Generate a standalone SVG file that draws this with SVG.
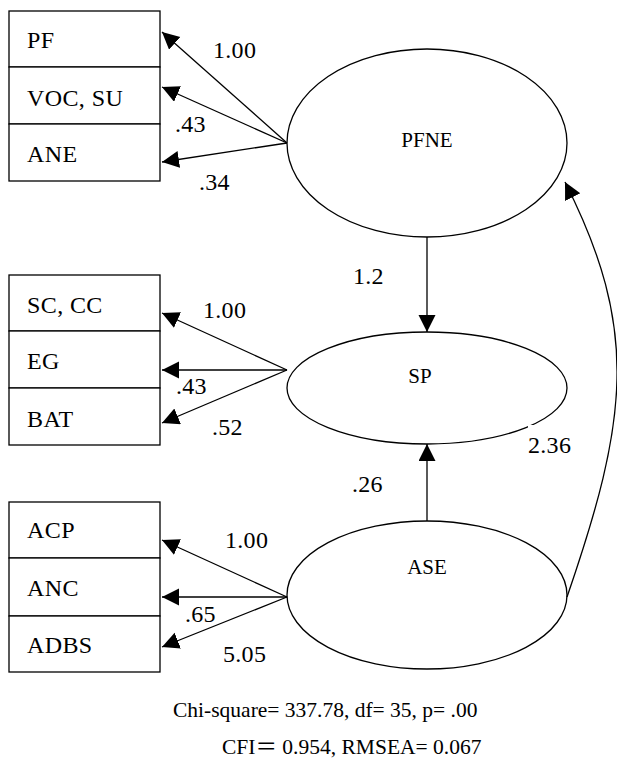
<svg xmlns="http://www.w3.org/2000/svg" width="617" height="760" viewBox="0 0 617 760">
<style>
text{font-family:"Liberation Serif","Times New Roman",Times,serif;fill:#000;}
.cjk{font-family:"Noto Sans CJK SC",sans-serif;}
.lbl{font-size:24px;letter-spacing:0.4px;}
.lat{font-size:21px;text-anchor:middle;}
.coef{font-size:24px;letter-spacing:0.3px;}
.fit{font-size:21.5px;}
.box{fill:#fff;stroke:#000;stroke-width:1.3;}
.ell{fill:#fff;stroke:#000;stroke-width:1.3;}
.conn line,.conn path{stroke:#000;stroke-width:1.3;fill:none;marker-end:url(#ah);}
</style>
<defs>
<marker id="ah" markerUnits="userSpaceOnUse" markerWidth="18" markerHeight="18" refX="17" refY="8.5" orient="auto">
<path d="M0,0 L17,8.5 L0,17 z" fill="#000"/>
</marker>
</defs>
<rect width="617" height="760" fill="#fff"/>

<g id="PF"><rect class="box" x="9" y="11" width="151" height="56"/><text class="lbl" x="27" y="48">PF</text></g>
<g id="VOC_SU"><rect class="box" x="9" y="67" width="151" height="57"/><text class="lbl" x="27" y="106">VOC, SU</text></g>
<g id="ANE"><rect class="box" x="9" y="124" width="151" height="57"/><text class="lbl" x="27" y="162">ANE</text></g>

<g id="SC_CC"><rect class="box" x="9" y="275" width="151" height="56"/><text class="lbl" x="27" y="313">SC, CC</text></g>
<g id="EG"><rect class="box" x="9" y="331" width="151" height="57"/><text class="lbl" x="27" y="369">EG</text></g>
<g id="BAT"><rect class="box" x="9" y="388" width="151" height="57"/><text class="lbl" x="27" y="427">BAT</text></g>

<g id="ACP"><rect class="box" x="9" y="502" width="151" height="56"/><text class="lbl" x="27" y="538">ACP</text></g>
<g id="ANC"><rect class="box" x="9" y="558" width="151" height="58"/><text class="lbl" x="27" y="596">ANC</text></g>
<g id="ADBS"><rect class="box" x="9" y="616" width="151" height="56"/><text class="lbl" x="27" y="653">ADBS</text></g>

<g id="PFNE"><ellipse class="ell" cx="427" cy="143" rx="140" ry="94"/><text class="lat" x="427" y="147">PFNE</text></g>
<g id="SP"><ellipse class="ell" cx="427" cy="388" rx="140" ry="56"/><text class="lat" x="420" y="383">SP</text></g>
<g id="ASE"><ellipse class="ell" cx="427" cy="595" rx="140" ry="74"/><text class="lat" x="427" y="574">ASE</text></g>

<g id="connectors" class="conn">
<line x1="287" y1="143" x2="162" y2="32"/>
<line x1="287" y1="143" x2="162" y2="87"/>
<line x1="287" y1="143" x2="162" y2="162"/>
<line x1="287" y1="370" x2="162" y2="313"/>
<line x1="287" y1="370" x2="162" y2="370"/>
<line x1="287" y1="370" x2="162" y2="423"/>
<line x1="287" y1="597" x2="162" y2="540"/>
<line x1="287" y1="597" x2="162" y2="597"/>
<line x1="287" y1="597" x2="162" y2="647"/>
<line x1="427" y1="237" x2="427" y2="332"/>
<line x1="427" y1="521" x2="427" y2="444"/>
<path d="M567,597 C628,420 640,330 565,182"/>
</g>

<g id="labels">
<text class="coef" x="213" y="58">1.00</text>
<text class="coef" x="175" y="132">.43</text>
<text class="coef" x="199" y="190">.34</text>
<text class="coef" x="203" y="318">1.00</text>
<text class="coef" x="176" y="394">.43</text>
<text class="coef" x="212" y="435">.52</text>
<text class="coef" x="225" y="548">1.00</text>
<text class="coef" x="185" y="622">.65</text>
<text class="coef" x="223" y="662">5.05</text>
<text class="coef" x="353" y="284">1.2</text>
<text class="coef" x="352" y="492">.26</text>
<rect x="528" y="425" width="48" height="32" fill="#fff"/>
<text class="coef" x="528" y="453">2.36</text>
</g>

<g id="fit">
<text class="fit" x="173" y="717">Chi-square= 337.78, df= 35, p= .00</text>
<text class="fit" x="222" y="754">CFI<tspan class="cjk">＝</tspan> 0.954, RMSEA= 0.067</text>
</g>
</svg>
